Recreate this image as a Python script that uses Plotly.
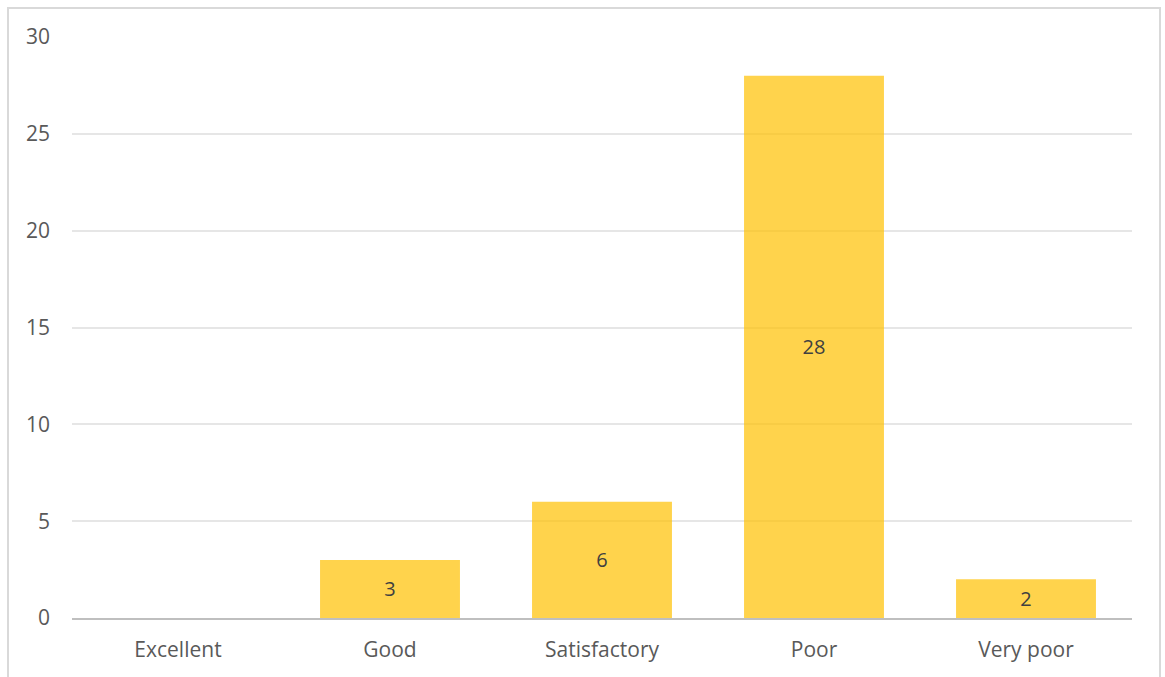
import plotly.graph_objects as go

categories = ["Excellent", "Good", "Satisfactory", "Poor", "Very poor"]
counts = [0, 3, 6, 28, 2]
y_ticks = [0, 5, 10, 15, 20, 25, 30]

labels = [str(v) if v else "" for v in counts]

FONT = "Open Sans, Lato, sans-serif"

fig = go.Figure(
    go.Bar(
        x=categories,
        y=counts,
        text=labels,
        textposition="inside",
        insidetextanchor="middle",
        textangle=0,
        textfont=dict(family=FONT, size=20, color="#404040"),
        marker=dict(color="rgba(255,192,0,0.7)", line=dict(width=0)),
        width=0.66,
        hoverinfo="x+y",
    )
)

W, H = 1165, 677
L, R, T, B = 72, 33, 37, 59
pw, ph = W - L - R, H - T - B


def px_x(p):
    return (p - L) / pw


def px_y(p):
    return (H - B - p) / ph


fig.update_layout(
    width=W,
    height=H,
    margin=dict(l=L, r=R, t=T, b=B),
    paper_bgcolor="white",
    plot_bgcolor="white",
    showlegend=False,
    font=dict(family=FONT, size=21, color="#595959"),
    uniformtext=dict(minsize=20, mode="show"),
    xaxis=dict(
        showgrid=False,
        showline=True,
        linecolor="#bfbfbf",
        linewidth=1.5,
        ticks="",
        ticklabelstandoff=12,
        tickfont=dict(family=FONT, size=21, color="#595959"),
    ),
    yaxis=dict(
        range=[0, 30],
        tickvals=y_ticks,
        showgrid=True,
        gridcolor="#e6e6e6",
        gridwidth=1.5,
        zeroline=False,
        showline=False,
        ticks="",
        ticklabelstandoff=21,
        tickfont=dict(family=FONT, size=21, color="#595959"),
    ),
    shapes=[
        dict(
            type="rect",
            xref="paper",
            yref="paper",
            x0=px_x(8),
            x1=px_x(1160),
            y0=px_y(690),
            y1=px_y(8),
            line=dict(color="#d9d9d9", width=2),
            fillcolor="rgba(0,0,0,0)",
            layer="below",
        )
    ],
)

fig.write_html("out.html")
